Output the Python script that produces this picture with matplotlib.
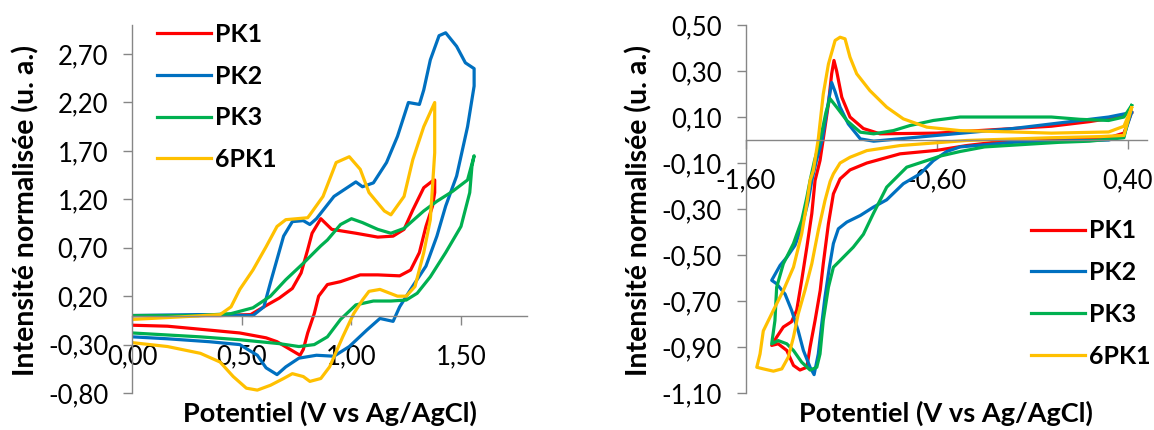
import matplotlib
matplotlib.use("Agg")
import matplotlib.pyplot as plt
from matplotlib.ticker import FuncFormatter

plt.rcParams['font.family'] = ['Lato', 'DejaVu Sans']

# ---- left panel: oxidation scans (V vs Ag/AgCl, normalised current)
left_pk1_v = [0.00, 0.20, 0.40, 0.54, 0.60, 0.67, 0.73, 0.77, 0.80, 0.82, 0.86, 0.91, 1.02, 1.12, 1.19, 1.24,
              1.28, 1.33, 1.37, 1.38, 1.38, 1.37, 1.34, 1.31, 1.27, 1.22, 1.12, 1.04, 0.95, 0.89, 0.85, 0.83,
              0.80, 0.78, 0.765, 0.72, 0.66, 0.61, 0.49, 0.35, 0.16, 0.00]
left_pk1_i = [0.00, 0.00, 0.00, 0.01, 0.09, 0.18, 0.28, 0.44, 0.68, 0.85, 1.00, 0.89, 0.85, 0.81, 0.82, 0.89,
              1.09, 1.32, 1.39, 1.40, 1.27, 1.13, 0.92, 0.65, 0.47, 0.41, 0.42, 0.42, 0.35, 0.32, 0.20, 0.02,
              -0.18, -0.35, -0.41, -0.35, -0.27, -0.23, -0.18, -0.15, -0.11, -0.10]

left_pk2_v = [0.00, 0.30, 0.55, 0.60, 0.63, 0.66, 0.69, 0.73, 0.78, 0.81, 0.84, 0.92, 1.02, 1.05, 1.10, 1.16,
              1.21, 1.26, 1.31, 1.33, 1.36, 1.40, 1.43, 1.48, 1.52, 1.56, 1.56, 1.53, 1.48, 1.43, 1.39, 1.34,
              1.27, 1.22, 1.19, 1.13, 1.07, 0.99, 0.92, 0.84, 0.76, 0.70, 0.66, 0.61, 0.57, 0.49, 0.35, 0.16, 0.00]
left_pk2_i = [0.00, 0.01, 0.00, 0.09, 0.34, 0.58, 0.82, 0.97, 0.98, 0.94, 1.00, 1.23, 1.38, 1.33, 1.37, 1.58,
              1.85, 2.20, 2.18, 2.33, 2.64, 2.89, 2.92, 2.78, 2.61, 2.55, 2.37, 1.95, 1.44, 1.13, 0.82, 0.51,
              0.27, 0.09, -0.06, -0.03, -0.15, -0.32, -0.42, -0.41, -0.44, -0.53, -0.61, -0.54, -0.41, -0.30,
              -0.27, -0.24, -0.22]

left_pk3_v = [0.00, 0.30, 0.45, 0.55, 0.63, 0.70, 0.78, 0.86, 0.89, 0.95, 1.00, 1.05, 1.12, 1.18, 1.24, 1.33,
              1.39, 1.46, 1.53, 1.56, 1.55, 1.54, 1.50, 1.43, 1.36, 1.30, 1.25, 1.18, 1.10, 1.02, 0.95, 0.89,
              0.83, 0.76, 0.67, 0.49, 0.31, 0.00]
left_pk3_i = [0.00, 0.00, 0.02, 0.08, 0.20, 0.37, 0.54, 0.72, 0.78, 0.94, 1.00, 0.96, 0.89, 0.85, 0.90, 1.08,
              1.18, 1.28, 1.40, 1.65, 1.54, 1.27, 0.92, 0.65, 0.40, 0.23, 0.16, 0.15, 0.15, 0.11, -0.04, -0.22,
              -0.30, -0.32, -0.29, -0.25, -0.22, -0.18]

left_6pk1_v = [0.00, 0.25, 0.40, 0.45, 0.49, 0.55, 0.61, 0.66, 0.70, 0.80, 0.81, 0.87, 0.93, 0.99, 1.04, 1.08,
               1.15, 1.18, 1.24, 1.28, 1.33, 1.38, 1.38, 1.36, 1.33, 1.29, 1.25, 1.21, 1.13, 1.08, 1.05, 1.01,
               0.96, 0.90, 0.86, 0.81, 0.78, 0.73, 0.69, 0.63, 0.57, 0.52, 0.46, 0.40, 0.31, 0.16, 0.00]
left_6pk1_i = [-0.04, -0.01, 0.01, 0.09, 0.27, 0.47, 0.71, 0.92, 0.99, 1.01, 1.04, 1.23, 1.58, 1.64, 1.51, 1.27,
               1.08, 1.04, 1.23, 1.61, 1.95, 2.20, 1.68, 0.99, 0.65, 0.30, 0.20, 0.20, 0.27, 0.25, 0.16, 0.02,
               -0.22, -0.53, -0.65, -0.68, -0.63, -0.60, -0.65, -0.72, -0.77, -0.75, -0.63, -0.48, -0.39, -0.32,
               -0.28]

# ---- right panel: reduction scans
right_pk1_v = [0.42, 0.38, 0.30, 0.00, -0.30, -0.443, -0.60, -0.792, -0.966, -1.054, -1.106, -1.141, -1.167,
               -1.194, -1.21, -1.237, -1.263, -1.28, -1.316, -1.35, -1.385, -1.43, -1.464, -1.438, -1.403, -1.36,
               -1.333, -1.307, -1.28, -1.254, -1.237, -1.211, -1.194, -1.167, -1.15, -1.138, -1.124, -1.097,
               -1.054, -0.984, -0.897, -0.60, -0.30, 0.00, 0.20, 0.35, 0.42]
right_pk1_i = [0.12, 0.03, 0.01, 0.00, -0.01, -0.024, -0.045, -0.06, -0.10, -0.13, -0.169, -0.234, -0.364,
               -0.538, -0.654, -0.785, -0.90, -0.988, -1.00, -0.98, -0.915, -0.886, -0.893, -0.857, -0.813, -0.79,
               -0.74, -0.61, -0.466, -0.32, -0.176, -0.089, 0.005, 0.157, 0.288, 0.346, 0.30, 0.186, 0.10, 0.05,
               0.027, 0.03, 0.045, 0.06, 0.08, 0.10, 0.12]

right_pk2_v = [0.42, 0.38, 0.30, 0.00, -0.20, -0.478, -0.548, -0.618, -0.687, -0.775, -0.862, -0.932, -1.0,
               -1.071, -1.115, -1.141, -1.162, -1.185, -1.202, -1.22, -1.242, -1.263, -1.298, -1.325, -1.36,
               -1.394, -1.438, -1.464, -1.42, -1.385, -1.342, -1.307, -1.272, -1.254, -1.23, -1.20, -1.18, -1.16,
               -1.15, -1.132, -1.106, -1.063, -1.0, -0.93, -0.60, -0.20, 0.10, 0.30, 0.42]
right_pk2_i = [0.12, 0.02, 0.00, -0.005, -0.01, -0.03, -0.05, -0.09, -0.147, -0.19, -0.26, -0.292, -0.328,
               -0.357, -0.386, -0.45, -0.553, -0.683, -0.80, -0.93, -1.02, -0.988, -0.915, -0.83, -0.74, -0.67,
               -0.625, -0.61, -0.545, -0.51, -0.458, -0.38, -0.263, -0.176, -0.09, 0.0, 0.10, 0.20, 0.25, 0.21,
               0.143, 0.07, 0.005, -0.005, 0.02, 0.05, 0.08, 0.10, 0.12]

right_pk3_v = [0.42, 0.38, 0.20, 0.04, -0.35, -0.478, -0.583, -0.618, -0.757, -0.862, -0.932, -0.984, -1.037,
               -1.106, -1.141, -1.167, -1.194, -1.211, -1.228, -1.263, -1.307, -1.35, -1.385, -1.43, -1.464,
               -1.447, -1.438, -1.403, -1.35, -1.307, -1.28, -1.263, -1.24, -1.21, -1.18, -1.159, -1.124, -1.071,
               -1.0, -0.93, -0.827, -0.74, -0.618, -0.478, -0.20, 0.0, 0.15, 0.30, 0.38, 0.42]
right_pk3_i = [0.15, 0.01, -0.005, -0.01, -0.03, -0.05, -0.07, -0.08, -0.118, -0.205, -0.32, -0.41, -0.466,
               -0.524, -0.553, -0.64, -0.785, -0.93, -0.988, -1.0, -0.966, -0.915, -0.886, -0.872, -0.886,
               -0.785, -0.64, -0.538, -0.45, -0.35, -0.249, -0.176, -0.09, 0.0, 0.12, 0.18, 0.143, 0.085, 0.034,
               0.027, 0.041, 0.063, 0.085, 0.10, 0.10, 0.10, 0.09, 0.085, 0.10, 0.15]

right_6pk1_v = [0.42, 0.38, 0.256, 0.0, -0.443, -0.792, -0.966, -1.054, -1.106, -1.141, -1.158, -1.185, -1.22,
                -1.254, -1.29, -1.325, -1.35, -1.377, -1.411, -1.455, -1.508, -1.542, -1.525, -1.508, -1.455,
                -1.403, -1.35, -1.307, -1.28, -1.263, -1.246, -1.22, -1.194, -1.167, -1.132, -1.106, -1.08,
                -1.054, -1.019, -0.95, -0.862, -0.775, -0.652, -0.478, -0.20, 0.0, 0.30, 0.38, 0.42]
right_6pk1_i = [0.14, 0.02, 0.015, 0.01, -0.002, -0.024, -0.046, -0.075, -0.10, -0.147, -0.18, -0.263, -0.393,
                -0.538, -0.654, -0.756, -0.857, -0.944, -0.995, -1.005, -0.995, -0.988, -0.93, -0.83, -0.74,
                -0.654, -0.553, -0.408, -0.277, -0.176, -0.133, 0.005, 0.20, 0.33, 0.433, 0.447, 0.44, 0.36,
                0.288, 0.215, 0.143, 0.092, 0.056, 0.041, 0.035, 0.03, 0.035, 0.06, 0.14]

labels = ['PK1', 'PK2', 'PK3', '6PK1']
colors = ['#FF0000', '#0070C0', '#00B050', '#FFC000']
left_ticks_x = [0.0, 0.5, 1.0, 1.5]
left_ticks_y = [-0.8, -0.3, 0.2, 0.7, 1.2, 1.7, 2.2, 2.7]
right_ticks_x = [-1.6, -0.6, 0.4]
right_ticks_y = [-1.1, -0.9, -0.7, -0.5, -0.3, -0.1, 0.1, 0.3, 0.5]

fmt = FuncFormatter(lambda v, p: ('%.2f' % v).replace('.', ','))
axis_grey = '#868686'
tick_size = 18.5
xlabel_font = dict(family='Lato', weight='bold', size=19.5)
ylabel_font = dict(family='Lato', weight='bold', size=20.5)
legend_font = dict(family='Lato', weight='bold', size=18)

fig = plt.figure(figsize=(11.54, 4.30), dpi=100)
ax1 = fig.add_axes([0.1148, 0.086, 0.3416, 0.8558])
ax2 = fig.add_axes([0.6462, 0.086, 0.3476, 0.8558])


def style(ax, xlim, ylim, xt, yt):
    ax.set_xlim(*xlim)
    ax.set_ylim(*ylim)
    ax.set_xticks(xt)
    ax.set_yticks(yt)
    ax.xaxis.set_major_formatter(fmt)
    ax.yaxis.set_major_formatter(fmt)
    ax.spines['top'].set_visible(False)
    ax.spines['right'].set_visible(False)
    ax.spines['bottom'].set_position(('data', 0))
    for s in ('left', 'bottom'):
        ax.spines[s].set_color(axis_grey)
        ax.spines[s].set_linewidth(1.0)
    ax.tick_params(axis='both', direction='out', length=6.5, width=1.0, color=axis_grey,
                   labelsize=tick_size, labelcolor='black')
    ax.tick_params(axis='x', pad=14)
    ax.tick_params(axis='y', pad=11)
    ax.set_xlabel('Potentiel (V vs Ag/AgCl)', fontdict=xlabel_font)
    ax.set_ylabel('Intensité normalisée (u. a.)', fontdict=ylabel_font)
    ax.xaxis.label.set_va('center')
    ax.yaxis.label.set_va('center')
    ax.patch.set_visible(False)


style(ax1, (0, 1.8), (-0.8, 3.0), left_ticks_x, left_ticks_y)
style(ax2, (-1.6, 0.5), (-1.1, 0.5), right_ticks_x, right_ticks_y)
ax1.xaxis.set_label_coords(0.5, -0.054)
ax1.yaxis.set_label_coords(-0.27, 0.495)
ax2.xaxis.set_label_coords(0.5, -0.054)
ax2.yaxis.set_label_coords(-0.266, 0.495)

left_data = [(left_pk1_v, left_pk1_i), (left_pk2_v, left_pk2_i),
             (left_pk3_v, left_pk3_i), (left_6pk1_v, left_6pk1_i)]
right_data = [(right_pk1_v, right_pk1_i), (right_pk2_v, right_pk2_i),
              (right_pk3_v, right_pk3_i), (right_6pk1_v, right_6pk1_i)]

for (v, i), c, lab in zip(left_data, colors, labels):
    ax1.plot(v, i, color=c, lw=2.3, label=lab, solid_joinstyle='round')
for (v, i), c, lab in zip(right_data, colors, labels):
    ax2.plot(v, i, color=c, lw=2.3, label=lab, solid_joinstyle='round')

leg_kw = dict(frameon=False, loc='upper left', prop=legend_font, handlelength=2.16,
              handletextpad=0.16, labelspacing=0.75, borderpad=0, borderaxespad=0,
              bbox_transform=fig.transFigure)
ax1.legend(bbox_to_anchor=(0.136, 0.947), **leg_kw)
ax2.legend(bbox_to_anchor=(0.8934, 0.490), **leg_kw)

fig.savefig('out.png', dpi=100)
